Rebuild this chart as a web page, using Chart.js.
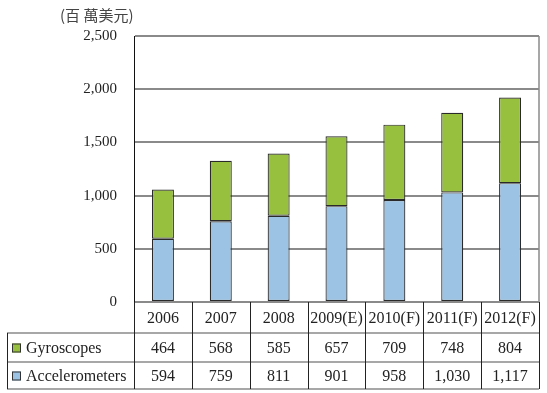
<!DOCTYPE html>
<html><head><meta charset="utf-8">
<script src="https://cdn.jsdelivr.net/npm/chart.js@4"></script>
<style>html,body{margin:0;padding:0;background:#fff}#wrap{width:547px;height:393px}</style>
</head><body><div id="wrap"><canvas id="c" width="547" height="393"></canvas></div>
<script>
const categories = ['2006','2007','2008','2009(E)','2010(F)','2011(F)','2012(F)'];
const gyroscopes = [464,568,585,657,709,748,804];
const accelerometers = [594,759,811,901,958,1030,1117];
const seriesNames = ['Gyroscopes','Accelerometers'];
const unitLabel = '(百 萬美元)';
const yTicks = [0,500,1000,1500,2000,2500];

const GREEN = '#97c03f', BLUE = '#9dc3e4';
const SERIF = '"Liberation Serif", "DejaVu Serif", serif';
const fmt = v => v.toLocaleString('en-US');

const tablePlugin = {
  id: 'table',
  afterDraw(chart) {
    const ctx = chart.ctx, a = chart.chartArea, xs = chart.scales.x;
    const r0 = a.bottom, r1 = r0 + 31, r2 = r1 + 29, r3 = r2 + 27;
    const tblLeft = 7;
    ctx.save();
    ctx.strokeStyle = '#8a8a8a'; ctx.lineWidth = 1.5;
    [r1, r2, r3].forEach(y => { ctx.beginPath(); ctx.moveTo(tblLeft, y); ctx.lineTo(a.right, y); ctx.stroke(); });
    ctx.strokeStyle = '#222'; ctx.lineWidth = 1;
    const step = (a.right - a.left) / categories.length;
    for (let i = 0; i <= categories.length; i++) {
      const x = Math.round(a.left + i * step) + 0.5;
      ctx.beginPath(); ctx.moveTo(x, r0); ctx.lineTo(x, r3); ctx.stroke();
    }
    ctx.beginPath(); ctx.moveTo(tblLeft + 0.5, r1); ctx.lineTo(tblLeft + 0.5, r3); ctx.stroke();
    const tf = '16px ' + SERIF;
    ctx.fillStyle = '#222'; ctx.font = tf; ctx.textAlign = 'center'; ctx.textBaseline = 'middle';
    categories.forEach((c, i) => {
      const x = xs.getPixelForValue(i);
      ctx.fillText(c, x, (r0 + r1) / 2 + 1);
      ctx.fillText(fmt(gyroscopes[i]), x, (r1 + r2) / 2 + 1);
      ctx.fillText(fmt(accelerometers[i]), x, (r2 + r3) / 2 + 1);
    });
    const rows = [[seriesNames[0], GREEN, (r1 + r2) / 2], [seriesNames[1], BLUE, (r2 + r3) / 2]];
    rows.forEach(([n, col, y]) => {
      ctx.fillStyle = col; ctx.fillRect(12, y - 4, 9, 9);
      ctx.strokeStyle = '#333'; ctx.lineWidth = 1; ctx.strokeRect(12.5, y - 3.5, 8, 8);
      ctx.fillStyle = '#222'; ctx.font = tf; ctx.textAlign = 'left'; ctx.textBaseline = 'middle';
      ctx.fillText(n, 26, y + 1);
    });
    ctx.font = '15px "Noto Sans CJK TC", sans-serif'; ctx.textAlign = 'left';
    ctx.fillStyle = '#444';
    ctx.fillText(unitLabel, 60, 15);
    ctx.restore();
  }
};

new Chart(document.getElementById('c'), {
  type: 'bar',
  data: {
    labels: categories,
    datasets: [
      { label: seriesNames[1], data: accelerometers, backgroundColor: BLUE, borderColor: '#2a2a2a', borderWidth: 1.2, borderSkipped: false },
      { label: seriesNames[0], data: gyroscopes, backgroundColor: GREEN, borderColor: '#2a2a2a', borderWidth: 1.2, borderSkipped: false }
    ]
  },
  options: {
    responsive: false, animation: false,
    layout: { padding: { top: 36, right: 8, bottom: 91, left: 0 } },
    datasets: { bar: { categoryPercentage: 1, barPercentage: 0.38 } },
    plugins: { legend: { display: false }, tooltip: { enabled: false } },
    scales: {
      x: { stacked: true, display: false },
      y: {
        stacked: true, min: 0, max: 2500,
        afterFit(s) { s.width = 134; },
        afterBuildTicks(s) { s.ticks = yTicks.map(v => ({ value: v })); },
        ticks: { color: '#222', font: { family: SERIF, size: 15 }, padding: 17, callback: v => fmt(v) },
        grid: { color: '#8a8a8a', lineWidth: 2, drawTicks: false },
        border: { display: true, color: '#111', width: 1 }
      }
    }
  },
  plugins: [tablePlugin, {
    id: 'rightBorder',
    afterDraw(chart) {
      const ctx = chart.ctx, a = chart.chartArea;
      ctx.save(); ctx.strokeStyle = '#8a8a8a'; ctx.lineWidth = 1.5;
      ctx.beginPath(); ctx.moveTo(a.right, a.top); ctx.lineTo(a.right, a.bottom); ctx.stroke();
      ctx.restore();
    }
  }]
});
</script></body></html>
